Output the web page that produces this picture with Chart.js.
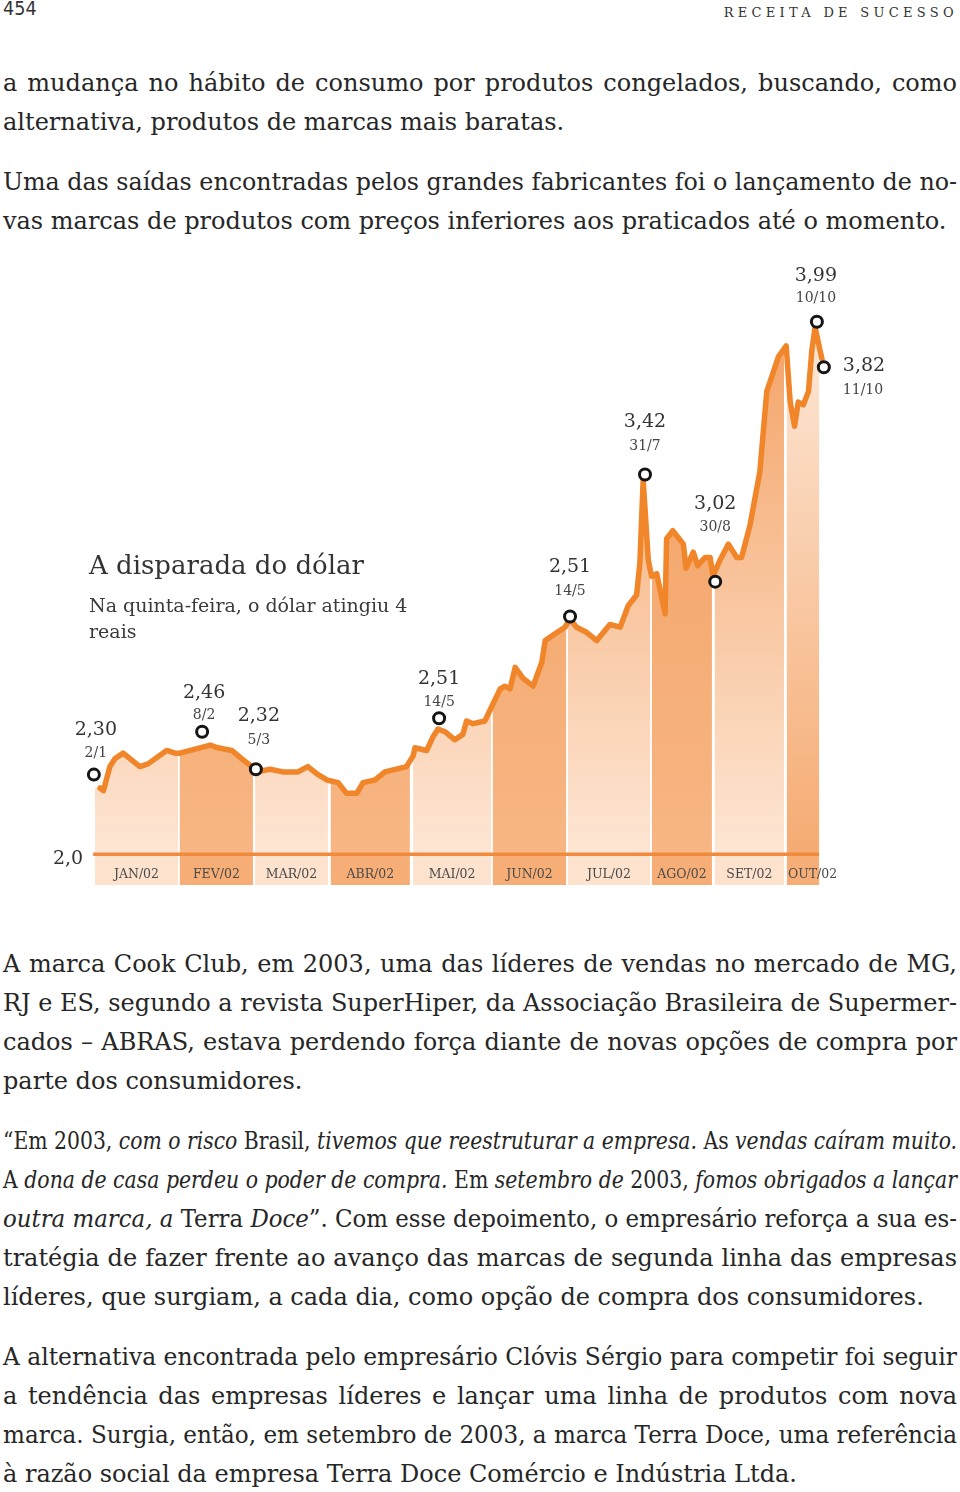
<!DOCTYPE html>
<html>
<head>
<meta charset="utf-8">
<script src="https://cdn.jsdelivr.net/npm/chart.js@4.4.1/dist/chart.umd.min.js"></script>
<style>
html,body{margin:0;padding:0;background:#fff;}
body{width:960px;height:1492px;position:relative;overflow:hidden;font-family:"DejaVu Serif",serif;color:#262626;}
.ln{position:absolute;left:3px;width:954px;white-space:nowrap;font-size:24px;line-height:40px;height:40px;}
.ln span{display:inline-block;transform-origin:0 50%;}
.ln i{font-style:italic;}
#pg{position:absolute;left:3px;top:-4px;font-family:"DejaVu Sans","Liberation Sans",sans-serif;font-size:20px;color:#333;transform:scaleX(0.88);transform-origin:0 0;}
#run{position:absolute;right:2px;top:5px;font-size:13px;letter-spacing:4.3px;color:#333;}
#tit{position:absolute;left:89px;top:550px;font-size:26px;color:#333;white-space:nowrap;}
#sub{position:absolute;left:89px;top:592px;font-size:19px;line-height:26px;color:#3a3a3a;white-space:nowrap;}
#wrap{position:absolute;left:0;top:250px;width:960px;height:650px;}
</style>
</head>
<body>
<div id="pg">454</div>
<div id="run">RECEITA DE SUCESSO</div>
<div id="wrap"><canvas id="c" width="960" height="650"></canvas></div>
<div id="tit">A disparada do dólar</div>
<div id="sub">Na quinta-feira, o dólar atingiu 4<br>reais</div>
<script>
// ---------- DADOS ----------
// eixo x: índice de dias úteis desde o início de janeiro/2002
const diaUtil = [
  1.4, 2.3, 4.1, 5.5, 7.7, 12.3, 14.5, 19.6, 21.9, 23.2, 28.7,
  31.5, 33.6, 37.4, 40.1, 42.9, 44.2, 47.9, 51.4, 55.5, 58.2,
  61.0, 63.4, 66.5, 68.8, 71.6, 73.3, 76.6, 79.3, 85.2, 87.0,
  87.5, 90.7, 92.4, 93.8, 95.7, 98.4, 100.6, 101.6, 103.4, 106.6,
  110.8, 112.1, 113.5, 114.9, 117.0, 119.8, 122.2, 123.1, 125.2, 128.5,
  129.9, 131.7, 134.5, 137.2, 140.8, 143.6, 145.8, 148.1, 149.0, 149.9,
  151.3, 152.2, 153.6, 155.9, 156.3, 158.0, 160.9, 161.6, 163.6, 164.8,
  166.8, 168.2, 169.0, 170.9, 173.2, 175.5, 176.8, 179.1, 181.8, 183.7,
  186.9, 189.0, 190.1, 191.3, 192.3, 193.7, 195.1, 196.0, 196.9, 198.3,
  198.8
];
// cotação do dólar (R$)
const cotacao = [
  2.25, 2.24, 2.33, 2.36, 2.38, 2.33, 2.34, 2.39, 2.38, 2.38, 2.40,
  2.41, 2.40, 2.39, 2.36, 2.33, 2.31, 2.32, 2.31, 2.31, 2.33,
  2.30, 2.28, 2.27, 2.23, 2.23, 2.27, 2.28, 2.31, 2.33, 2.37,
  2.40, 2.39, 2.44, 2.47, 2.46, 2.43, 2.45, 2.50, 2.49, 2.50,
  2.62, 2.63, 2.62, 2.70, 2.66, 2.63, 2.72, 2.80, 2.82, 2.85,
  2.88, 2.85, 2.83, 2.80, 2.86, 2.85, 2.93, 2.97, 3.09, 3.40,
  3.10, 3.04, 3.05, 2.90, 3.18, 3.21, 3.16, 3.07, 3.13, 3.08,
  3.11, 3.11, 3.04, 3.10, 3.16, 3.11, 3.11, 3.23, 3.43, 3.73,
  3.86, 3.90, 3.69, 3.60, 3.69, 3.68, 3.73, 3.88, 3.97, 3.88,
  3.85
];
// marcos destacados
const marcoDia   = [-0.3, 29.3, 44.0, 94.1, 129.9, 150.4, 169.6, 197.4, 199.3];
const marcoValor = [2.30, 2.46, 2.32, 2.51, 2.89, 3.42, 3.02, 3.99, 3.82];
const marcoTexto = ['2,30', '2,46', '2,32', '2,51', '2,51', '3,42', '3,02', '3,99', '3,82'];
const marcoData  = ['2/1', '8/2', '5/3', '14/5', '14/5', '31/7', '30/8', '10/10', '11/10'];
// meses (faixas)
const meses     = ['JAN/02','FEV/02','MAR/02','ABR/02','MAI/02','JUN/02','JUL/02','AGO/02','SET/02','OUT/02'];
const inicioMes = [0, 23.2, 43.8, 64.5, 87.0, 108.8, 129.3, 152.3, 169.5, 189.2];
const fimMes    = [22.7, 43.2, 63.7, 86.1, 108.3, 128.8, 151.8, 168.7, 188.4, 198.0];
const eixoMin = 2.0, eixoMax = 4.1;
const eixoRotulo = '2,0';

// ---------- ESTILO ----------
const corLinha = '#f0852a';
const faixaClara  = {top:'#f4a265', bottom:'#fde6d4', strip:'#fde2cd'};
const faixaEscura = {top:'#f3a062', bottom:'#f7b683', strip:'#f6ae76'};
const faixaOut    = {top:'#fde8d8', bottom:'#f5ab72', strip:'#f6ae76'};
function estiloFaixa(i){ if (i === meses.length-1) return faixaOut; return i%2===0 ? faixaClara : faixaEscura; }
// deslocamentos dos rótulos [dx, dy valor, dy data, alinhamento]
const rotuloPos = [
  [2,-45,-21,'center'],[2,-39,-16,'center'],[3,-53,-29,'center'],[0,-39,-16,'center'],
  [0,-49,-25,'center'],[0,-52,-28,'center'],[0,-78,-54,'center'],[-1,-46,-23,'center'],
  [19,-1,23,'left']
];

const bandsPlugin = {
  id:'bands',
  beforeDatasetsDraw(chart){
    const {ctx, scales:{x,y}} = chart;
    const pts = chart.getDatasetMeta(1).data;
    const yBase = y.getPixelForValue(eixoMin);
    const yTop = y.getPixelForValue(4.0);
    ctx.save();
    ctx.beginPath();
    ctx.moveTo(x.getPixelForValue(inicioMes[0]), yBase);
    ctx.lineTo(x.getPixelForValue(inicioMes[0]), pts[0].y);
    pts.forEach(p=>ctx.lineTo(p.x,p.y));
    ctx.lineTo(pts[pts.length-1].x, yBase);
    ctx.closePath();
    ctx.clip();
    meses.forEach((m,i)=>{
      const x0 = x.getPixelForValue(inicioMes[i]), x1 = x.getPixelForValue(fimMes[i]);
      const st = estiloFaixa(i);
      const g = ctx.createLinearGradient(0,yTop,0,yBase);
      g.addColorStop(0, st.top); g.addColorStop(1, st.bottom);
      ctx.fillStyle = g;
      ctx.fillRect(x0, 0, x1-x0, yBase);
    });
    ctx.restore();
    ctx.save();
    meses.forEach((m,i)=>{
      const x0 = x.getPixelForValue(inicioMes[i]), x1 = x.getPixelForValue(fimMes[i]);
      ctx.fillStyle = estiloFaixa(i).strip;
      ctx.fillRect(x0, yBase+1, x1-x0, 29);
    });
    ctx.fillStyle = '#f08a3c';
    const xa = x.getPixelForValue(-0.5), xb = x.getPixelForValue(fimMes[fimMes.length-1]);
    ctx.fillRect(xa, yBase-2.5, xb-xa, 3.5);
    ctx.font = '12.5px "DejaVu Serif"';
    ctx.fillStyle = '#4a4a4a';
    ctx.textBaseline = 'middle';
    meses.forEach((m,i)=>{
      const x0 = x.getPixelForValue(inicioMes[i]), x1 = x.getPixelForValue(fimMes[i]);
      const w = ctx.measureText(m).width;
      if (w > x1-x0) { ctx.textAlign='left'; ctx.fillText(m, x0+1, yBase+20); }
      else { ctx.textAlign='center'; ctx.fillText(m, (x0+x1)/2, yBase+20); }
    });
    ctx.font = '19px "DejaVu Serif"';
    ctx.fillStyle = '#333';
    ctx.textAlign = 'right';
    ctx.fillText(eixoRotulo, x.getPixelForValue(-0.5)-10, yBase+4);
    ctx.restore();
  }
};

const labelsPlugin = {
  id:'labels',
  afterDatasetsDraw(chart){
    const {ctx} = chart;
    const pts = chart.getDatasetMeta(0).data;
    ctx.save();
    ctx.textBaseline = 'middle';
    pts.forEach((p,i)=>{
      const [dx,dv,dd,al] = rotuloPos[i];
      ctx.textAlign = al;
      ctx.fillStyle = '#333';
      ctx.font = '19px "DejaVu Serif"';
      ctx.fillText(marcoTexto[i], p.x+dx, p.y+dv);
      ctx.fillStyle = '#444';
      ctx.font = '14px "DejaVu Serif"';
      ctx.fillText(marcoData[i], p.x+dx, p.y+dd);
    });
    ctx.restore();
  }
};

new Chart(document.getElementById('c'), {
  type:'line',
  data:{ datasets:[
    { label:'marcos', data: marcoDia.map((d,i)=>({x:d, y:marcoValor[i]})),
      showLine:false, pointRadius:5.5, pointBorderWidth:3, pointBackgroundColor:'#fff',
      pointBorderColor:'#151515', clip:false },
    { label:'dólar', data: diaUtil.map((d,i)=>({x:d, y:cotacao[i]})),
      borderColor:corLinha, borderWidth:5.5, pointRadius:0, fill:false, tension:0,
      clip:false, borderJoinStyle:'round', borderCapStyle:'round' }
  ]},
  options:{
    responsive:false, animation:false, devicePixelRatio:1, events:[],
    layout:{padding:{left:91.3, right:133.6, top:42.2, bottom:45}},
    scales:{
      x:{type:'linear', min:-1, max:200, display:false},
      y:{type:'linear', min:eixoMin, max:eixoMax, display:false}
    },
    plugins:{legend:{display:false}, tooltip:{enabled:false}, title:{display:false}}
  },
  plugins:[bandsPlugin, labelsPlugin]
});

// ---------- TEXTO DA PÁGINA ----------
const linhas = [
  [84, 'a mudança no hábito de consumo por produtos congelados, buscando, como', true],
  [123, 'alternativa, produtos de marcas mais baratas.', false],
  [183, 'Uma das saídas encontradas pelos grandes fabricantes foi o lançamento de no-', true],
  [222, 'vas marcas de produtos com preços inferiores aos praticados até o momento.', false],
  [965, 'A marca Cook Club, em 2003, uma das líderes de vendas no mercado de MG,', true],
  [1004, 'RJ e ES, segundo a revista SuperHiper, da Associação Brasileira de Supermer-', true],
  [1043, 'cados – ABRAS, estava perdendo força diante de novas opções de compra por', true],
  [1082, 'parte dos consumidores.', false],
  [1142, '“Em 2003, <i>com o risco</i> Brasil, <i>tivemos que reestruturar a empresa.</i> As <i>vendas caíram muito.</i>', true],
  [1181, 'A <i>dona de casa perdeu o poder de compra.</i> Em <i>setembro de</i> 2003, <i>fomos obrigados a lançar</i>', true],
  [1220, '<i>outra marca, a</i> Terra <i>Doce</i>”. Com esse depoimento, o empresário reforça a sua es-', true],
  [1259, 'tratégia de fazer frente ao avanço das marcas de segunda linha das empresas', true],
  [1298, 'líderes, que surgiam, a cada dia, como opção de compra dos consumidores.', false],
  [1358, 'A alternativa encontrada pelo empresário Clóvis Sérgio para competir foi seguir', true],
  [1397, 'a tendência das empresas líderes e lançar uma linha de produtos com nova', true],
  [1436, 'marca. Surgia, então, em setembro de 2003, a marca Terra Doce, uma referência', true],
  [1475, 'à razão social da empresa Terra Doce Comércio e Indústria Ltda.', false]
];
const W = 954;
linhas.forEach(([y, html, just])=>{
  const d = document.createElement('div'); d.className='ln'; d.style.top=(y-21)+'px';
  const s = document.createElement('span'); s.innerHTML = html; d.appendChild(s); document.body.appendChild(d);
  const w = s.getBoundingClientRect().width;
  const n = (s.textContent.match(/ /g)||[]).length;
  if (w > W) s.style.transform = 'scaleX(' + (W/w) + ')';
  else if (just && n) s.style.wordSpacing = ((W-w)/n) + 'px';
});
</script>
</body>
</html>
